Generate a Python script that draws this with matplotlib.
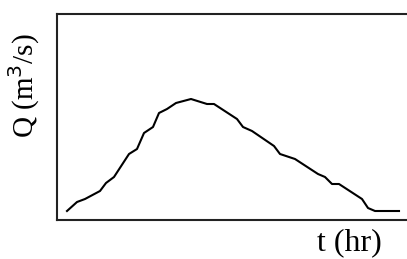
import numpy as np
import matplotlib.pyplot as plt

# hydrograph (arbitrary units)
t = [1.0, 2.0, 2.8, 4.3, 4.9, 5.7, 7.2, 8.0, 8.7, 9.6, 10.2, 11.0, 11.9,
     13.4, 15.0, 15.7, 18.0, 18.6, 19.5, 21.7, 22.3, 23.8, 26.1, 26.8,
     27.5, 28.2, 30.5, 31.1, 31.8, 34.2]
Q = [0.9, 1.8, 2.1, 2.9, 3.7, 4.3, 6.6, 7.1, 8.7, 9.3, 10.7, 11.1, 11.7,
     12.1, 11.6, 11.6, 10.1, 9.3, 8.9, 7.4, 6.6, 6.1, 4.6, 4.3, 3.6, 3.6,
     2.1, 1.2, 0.9, 0.9]

fig = plt.figure(figsize=(4.07, 2.59), dpi=100)
ax = fig.add_axes([57/407, 39/259, 360/407, 206/259])

ax.plot(t, Q, color='black', lw=1.5)
ax.set_xlim(0, 36.0)
ax.set_ylim(0, 20.6)
ax.set_xticks([])
ax.set_yticks([])
for s in ax.spines.values():
    s.set_color('#222222')
    s.set_linewidth(1.5)

fig.text(24/407, 1 - 86/259, 'Q (m$^3$/s)', rotation=90, ha='center', va='center',
         family='Liberation Serif', fontsize=21)
fig.text(349/407, 1 - 243/259, 't (hr)', ha='center', va='center',
         family='Liberation Serif', fontsize=23)

fig.savefig('out.png', dpi=100)
